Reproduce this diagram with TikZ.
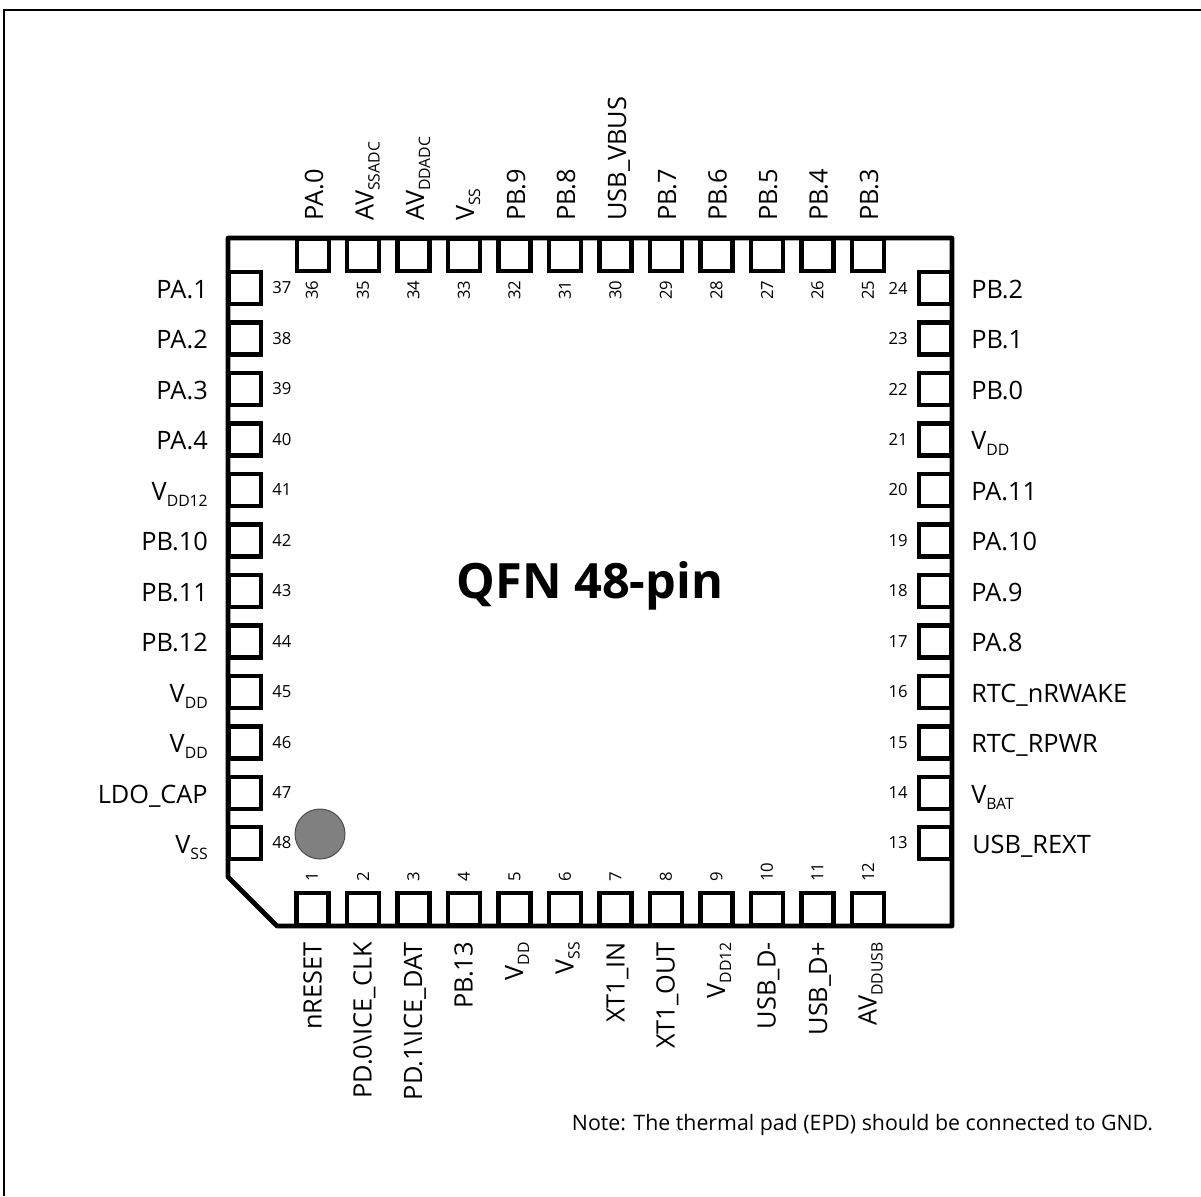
\documentclass[tikz,border=0pt]{standalone}
\usepackage{fontspec}
\setmainfont{Open Sans}
\newcommand{\subtxt}[1]{\raisebox{-0.45ex}{\fontsize{11.8}{11.8}\selectfont #1}}
\tikzset{
	padbox/.style={rectangle,draw=black,line width=3.5pt,minimum size=24pt,inner sep=0pt},
	pinnum/.style={inner sep=0pt,font=\fontsize{12.5}{12.5}\selectfont},
	pintext/.style={inner sep=0pt,text height=13.6pt,text depth=0pt,font=\fontsize{19}{19}\selectfont},
	pinleft/.style={pintext,anchor=east},
	pinright/.style={pintext,anchor=west},
	pinup/.style={pintext,anchor=west,rotate=90},
	pindown/.style={pintext,anchor=east,rotate=90}
}
\begin{document}
\begin{tikzpicture}[x=0.75pt,y=-0.75pt]
	\useasboundingbox (0,0) rectangle (1201,1196);
	\coordinate (frameA) at (4,10);
	\coordinate (frameB) at (1201,10);
	\coordinate (frameC) at (4,1196);
	\draw[line width=1.6pt] (frameB) -- (frameA) -- (frameC);
	\coordinate (cornerA) at (228,238);
	\coordinate (cornerB) at (952,238);
	\coordinate (cornerC) at (952,926);
	\coordinate (cornerD) at (277,926);
	\coordinate (cornerE) at (228,877);
	\draw[line width=3.5pt,line join=round] (cornerA) -- (cornerB) -- (cornerC) -- (cornerD) -- (cornerE) -- cycle;
	% left side
	\node at (245,288) [padbox] (p37) {}; \node at (272,288) [pinnum,anchor=west] (n37) {37}; \node at (208,289) [pinleft] (t37) {PA.1};
	\node at (245,338.5) [padbox] (p38) {}; \node at (272,338.5) [pinnum,anchor=west] (n38) {38}; \node at (208,339.5) [pinleft] (t38) {PA.2};
	\node at (245,389) [padbox] (p39) {}; \node at (272,389) [pinnum,anchor=west] (n39) {39}; \node at (208,390) [pinleft] (t39) {PA.3};
	\node at (245,439.5) [padbox] (p40) {}; \node at (272,439.5) [pinnum,anchor=west] (n40) {40}; \node at (208,440.5) [pinleft] (t40) {PA.4};
	\node at (245,490) [padbox] (p41) {}; \node at (272,490) [pinnum,anchor=west] (n41) {41}; \node at (208,491) [pinleft] (t41) {V\subtxt{DD12}};
	\node at (245,540.5) [padbox] (p42) {}; \node at (272,540.5) [pinnum,anchor=west] (n42) {42}; \node at (208,541.5) [pinleft] (t42) {PB.10};
	\node at (245,591) [padbox] (p43) {}; \node at (272,591) [pinnum,anchor=west] (n43) {43}; \node at (208,592) [pinleft] (t43) {PB.11};
	\node at (245,641.5) [padbox] (p44) {}; \node at (272,641.5) [pinnum,anchor=west] (n44) {44}; \node at (208,642.5) [pinleft] (t44) {PB.12};
	\node at (245,692) [padbox] (p45) {}; \node at (272,692) [pinnum,anchor=west] (n45) {45}; \node at (208,693) [pinleft] (t45) {V\subtxt{DD}};
	\node at (245,742.5) [padbox] (p46) {}; \node at (272,742.5) [pinnum,anchor=west] (n46) {46}; \node at (208,743.5) [pinleft] (t46) {V\subtxt{DD}};
	\node at (245,793) [padbox] (p47) {}; \node at (272,793) [pinnum,anchor=west] (n47) {47}; \node at (208,794) [pinleft] (t47) {LDO\_CAP};
	\node at (245,843) [padbox] (p48) {}; \node at (272,843) [pinnum,anchor=west] (n48) {48}; \node at (208,844) [pinleft] (t48) {V\subtxt{SS}};
	% right side
	\node at (935,288) [padbox] (p24) {}; \node at (908,288) [pinnum,anchor=east] (n24) {24}; \node at (971,289) [pinright] (t24) {PB.2};
	\node at (935,338.5) [padbox] (p23) {}; \node at (908,338.5) [pinnum,anchor=east] (n23) {23}; \node at (971,339.5) [pinright] (t23) {PB.1};
	\node at (935,389) [padbox] (p22) {}; \node at (908,389) [pinnum,anchor=east] (n22) {22}; \node at (971,390) [pinright] (t22) {PB.0};
	\node at (935,439.5) [padbox] (p21) {}; \node at (908,439.5) [pinnum,anchor=east] (n21) {21}; \node at (971,440.5) [pinright] (t21) {V\subtxt{DD}};
	\node at (935,490) [padbox] (p20) {}; \node at (908,490) [pinnum,anchor=east] (n20) {20}; \node at (971,491) [pinright] (t20) {PA.11};
	\node at (935,540.5) [padbox] (p19) {}; \node at (908,540.5) [pinnum,anchor=east] (n19) {19}; \node at (971,541.5) [pinright] (t19) {PA.10};
	\node at (935,591) [padbox] (p18) {}; \node at (908,591) [pinnum,anchor=east] (n18) {18}; \node at (971,592) [pinright] (t18) {PA.9};
	\node at (935,641.5) [padbox] (p17) {}; \node at (908,641.5) [pinnum,anchor=east] (n17) {17}; \node at (971,642.5) [pinright] (t17) {PA.8};
	\node at (935,692) [padbox] (p16) {}; \node at (908,692) [pinnum,anchor=east] (n16) {16}; \node at (971,693) [pinright] (t16) {RTC\_nRWAKE};
	\node at (935,742.5) [padbox] (p15) {}; \node at (908,742.5) [pinnum,anchor=east] (n15) {15}; \node at (971,743.5) [pinright] (t15) {RTC\_RPWR};
	\node at (935,793) [padbox] (p14) {}; \node at (908,793) [pinnum,anchor=east] (n14) {14}; \node at (971,794) [pinright] (t14) {V\subtxt{BAT}};
	\node at (935,843) [padbox] (p13) {}; \node at (908,843) [pinnum,anchor=east] (n13) {13}; \node at (972,844) [pinright] (t13) {USB\_REXT};
	% top side
	\node at (313,255) [padbox] (p36) {}; \node at (312,290) [pinnum,rotate=90] (n36) {36}; \node at (314,221) [pinup] (t36) {PA.0};
	\node at (363,255) [padbox] (p35) {}; \node at (363,290) [pinnum,rotate=90] (n35) {35}; \node at (364.5,221) [pinup] (t35) {AV\subtxt{SSADC}};
	\node at (413.5,255) [padbox] (p34) {}; \node at (413.5,290) [pinnum,rotate=90] (n34) {34}; \node at (415,221) [pinup] (t34) {AV\subtxt{DDADC}};
	\node at (464,255) [padbox] (p33) {}; \node at (464,290) [pinnum,rotate=90] (n33) {33}; \node at (465,221) [pinup] (t33) {V\subtxt{SS}};
	\node at (514.5,255) [padbox] (p32) {}; \node at (514.5,290) [pinnum,rotate=90] (n32) {32}; \node at (516,221) [pinup] (t32) {PB.9};
	\node at (565,255) [padbox] (p31) {}; \node at (565,290) [pinnum,rotate=90] (n31) {31}; \node at (566,221) [pinup] (t31) {PB.8};
	\node at (615.5,255) [padbox] (p30) {}; \node at (615.5,290) [pinnum,rotate=90] (n30) {30}; \node at (617,221) [pinup] (t30) {USB\_VBUS};
	\node at (666,255) [padbox] (p29) {}; \node at (666,290) [pinnum,rotate=90] (n29) {29}; \node at (667,221) [pinup] (t29) {PB.7};
	\node at (716.5,255) [padbox] (p28) {}; \node at (716.5,290) [pinnum,rotate=90] (n28) {28}; \node at (717.5,221) [pinup] (t28) {PB.6};
	\node at (767,255) [padbox] (p27) {}; \node at (767,290) [pinnum,rotate=90] (n27) {27}; \node at (768,221) [pinup] (t27) {PB.5};
	\node at (817.5,255) [padbox] (p26) {}; \node at (817.5,290) [pinnum,rotate=90] (n26) {26}; \node at (818.5,221) [pinup] (t26) {PB.4};
	\node at (868,255) [padbox] (p25) {}; \node at (868,290) [pinnum,rotate=90] (n25) {25}; \node at (869,221) [pinup] (t25) {PB.3};
	% bottom side
	\node at (312.5,909) [padbox] (p1) {}; \node at (312,882) [pinnum,rotate=90,anchor=west] (n1) {1}; \node at (312.5,942) [pindown] (t1) {nRESET};
	\node at (363,909) [padbox] (p2) {}; \node at (363,882) [pinnum,rotate=90,anchor=west] (n2) {2}; \node at (362.5,942) [pindown] (t2) {PD.0\textbackslash ICE\_CLK};
	\node at (413.5,909) [padbox] (p3) {}; \node at (413.5,882) [pinnum,rotate=90,anchor=west] (n3) {3}; \node at (413,942) [pindown] (t3) {PD.1\textbackslash ICE\_DAT};
	\node at (464,909) [padbox] (p4) {}; \node at (464,882) [pinnum,rotate=90,anchor=west] (n4) {4}; \node at (463.5,942) [pindown] (t4) {PB.13};
	\node at (514.5,909) [padbox] (p5) {}; \node at (514.5,882) [pinnum,rotate=90,anchor=west] (n5) {5}; \node at (514,942) [pindown] (t5) {V\subtxt{DD}};
	\node at (565,909) [padbox] (p6) {}; \node at (565,882) [pinnum,rotate=90,anchor=west] (n6) {6}; \node at (564.5,942) [pindown] (t6) {V\subtxt{SS}};
	\node at (615.5,909) [padbox] (p7) {}; \node at (615.5,882) [pinnum,rotate=90,anchor=west] (n7) {7}; \node at (615.5,942) [pindown] (t7) {XT1\_IN};
	\node at (666,909) [padbox] (p8) {}; \node at (666,882) [pinnum,rotate=90,anchor=west] (n8) {8}; \node at (665.5,942) [pindown] (t8) {XT1\_OUT};
	\node at (716.5,909) [padbox] (p9) {}; \node at (716.5,882) [pinnum,rotate=90,anchor=west] (n9) {9}; \node at (716,942) [pindown] (t9) {V\subtxt{DD12}};
	\node at (767,909) [padbox] (p10) {}; \node at (767,882) [pinnum,rotate=90,anchor=west] (n10) {10}; \node at (766.5,942) [pindown] (t10) {USB\_D-};
	\node at (817.5,909) [padbox] (p11) {}; \node at (817.5,882) [pinnum,rotate=90,anchor=west] (n11) {11}; \node at (818,942) [pindown] (t11) {USB\_D+};
	\node at (868,909) [padbox] (p12) {}; \node at (868,882) [pinnum,rotate=90,anchor=west] (n12) {12}; \node at (867.5,942) [pindown] (t12) {AV\subtxt{DDUSB}};
	% centre
	\node at (320,834) [circle,draw=black!70,fill=black!50,line width=0.75pt,minimum size=37.5pt,inner sep=0pt] (dot) {};
	\node at (590,586) [font=\fontsize{36.5}{36.5}\selectfont\bfseries] (title) {QFN 48-pin};
	\node at (862.5,1125) [inner sep=0pt,font=\fontsize{16}{16}\selectfont] (note) {Note: The thermal pad (EPD) should be connected to GND.};
\end{tikzpicture}
\end{document}
